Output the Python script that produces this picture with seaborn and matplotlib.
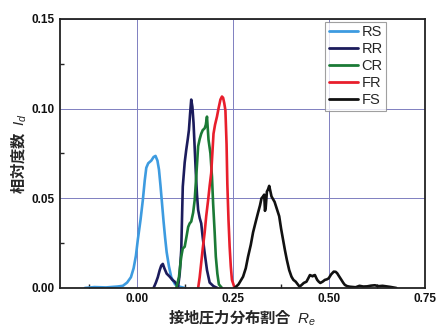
import numpy as np
import pandas as pd
import matplotlib
matplotlib.use("Agg")
import matplotlib.pyplot as plt
import seaborn as sns
from matplotlib.ticker import MultipleLocator, FormatStrFormatter

series_names = ["RS", "RR", "CR", "FR", "FS"]
colors = ["#3d9be0", "#1c1c5c", "#1b7a36", "#e81e2c", "#111111"]

rs_x = [-0.135, -0.11, -0.08, -0.05, -0.036, -0.025, -0.015, -0.008, -0.002, 0.003, 0.010, 0.016, 0.021, 0.025,
        0.030, 0.038, 0.044, 0.049, 0.054, 0.058, 0.062, 0.066, 0.070, 0.074, 0.078, 0.084, 0.090, 0.100, 0.110, 0.125]
rs_y = [0.0, 0.0005, 0.0003, 0.0008, 0.0012, 0.003, 0.006, 0.011, 0.018, 0.027, 0.038, 0.049, 0.060, 0.067,
        0.0695, 0.071, 0.073, 0.0736, 0.071, 0.066, 0.057, 0.047, 0.037, 0.028, 0.020, 0.012, 0.006, 0.002, 0.0008, 0.0]

rr_x = [0.044, 0.050, 0.055, 0.060, 0.064, 0.068, 0.072, 0.078, 0.086, 0.093, 0.099, 0.104, 0.108, 0.112, 0.116,
        0.120, 0.125, 0.129, 0.133, 0.136, 0.139, 0.142, 0.145, 0.148, 0.151, 0.154, 0.157, 0.160, 0.164, 0.168,
        0.172, 0.177, 0.183, 0.190, 0.200, 0.210]
rr_y = [0.0, 0.003, 0.006, 0.010, 0.0125, 0.0134, 0.011, 0.008, 0.0063, 0.0045, 0.0035, 0.002, 0.001, 0.008, 0.021,
        0.0565, 0.070, 0.077, 0.083, 0.088, 0.097, 0.105, 0.101, 0.092, 0.078, 0.064, 0.052, 0.0435, 0.039, 0.036,
        0.028, 0.0195, 0.010, 0.003, 0.001, 0.0]

cr_x = [0.103, 0.110, 0.116, 0.120, 0.125, 0.130, 0.134, 0.138, 0.142, 0.147, 0.151, 0.155, 0.160, 0.164, 0.168,
        0.172, 0.177, 0.180, 0.183, 0.187, 0.192, 0.196, 0.199, 0.203, 0.206, 0.210, 0.214, 0.222]
cr_y = [0.0, 0.006, 0.0175, 0.022, 0.023, 0.029, 0.034, 0.036, 0.037, 0.042, 0.049, 0.062, 0.079, 0.083, 0.086,
        0.088, 0.089, 0.091, 0.0955, 0.0826, 0.075, 0.062, 0.047, 0.031, 0.0175, 0.008, 0.002, 0.0]

fr_x = [0.160, 0.164, 0.168, 0.172, 0.177, 0.181, 0.186, 0.190, 0.194, 0.197, 0.200, 0.204, 0.209, 0.213, 0.218,
        0.222, 0.225, 0.228, 0.231, 0.234, 0.236, 0.239, 0.242, 0.245, 0.248, 0.255]
fr_y = [0.0, 0.006, 0.014, 0.022, 0.031, 0.040, 0.049, 0.057, 0.064, 0.075, 0.086, 0.091, 0.0955, 0.100, 0.105,
        0.1067, 0.106, 0.103, 0.099, 0.080, 0.058, 0.038, 0.023, 0.012, 0.0045, 0.0]

fs_x = [0.255, 0.265, 0.277, 0.284, 0.290, 0.297, 0.303, 0.310, 0.316, 0.321, 0.325, 0.329, 0.332, 0.334, 0.336, 0.339, 0.342, 0.345,
        0.348, 0.351, 0.355, 0.359, 0.365, 0.371, 0.376, 0.381,
        0.386, 0.391, 0.397, 0.403, 0.408, 0.414, 0.424, 0.430, 0.435, 0.442, 0.447, 0.451, 0.455, 0.458, 0.461, 0.464,
        0.467, 0.470, 0.474, 0.478, 0.484, 0.490, 0.495, 0.500, 0.506, 0.513, 0.518, 0.522,
        0.527, 0.533, 0.538, 0.542, 0.548, 0.555, 0.570, 0.580, 0.590, 0.600, 0.610, 0.620, 0.630, 0.640, 0.650, 0.660, 0.676]
fs_y = [0.0, 0.002, 0.0063, 0.011, 0.0175, 0.024, 0.031, 0.037, 0.042, 0.046, 0.050, 0.051, 0.052, 0.043, 0.045, 0.0537, 0.055, 0.0569,
        0.054, 0.051, 0.0495, 0.048, 0.044, 0.040, 0.033, 0.027,
        0.021, 0.0156, 0.010, 0.0063, 0.0045, 0.0035, 0.0007, 0.0018, 0.0028, 0.0035, 0.0055, 0.0072, 0.0068, 0.0065, 0.0070, 0.0072,
        0.0058, 0.0045, 0.0035, 0.0028, 0.0035, 0.0045, 0.0048, 0.0054, 0.0075, 0.0091, 0.0090, 0.0082,
        0.0065, 0.0045, 0.0028, 0.0017, 0.0010, 0.0007, 0.0004, 0.0012, 0.0008, 0.0009, 0.0013, 0.0015, 0.0010, 0.0012, 0.0009, 0.0006, 0.0]

xs = [rs_x, rr_x, cr_x, fr_x, fs_x]
ys = [rs_y, rr_y, cr_y, fr_y, fs_y]

frames = []
for n, x, y in zip(series_names, xs, ys):
    frames.append(pd.DataFrame({"Re": x, "Id": y, "series": n}))
df = pd.concat(frames, ignore_index=True)

sns.set_theme(style="white")
plt.rcParams['font.family'] = ['Liberation Sans', 'Noto Sans CJK JP', 'DejaVu Sans']
plt.rcParams['mathtext.fontset'] = 'custom'
plt.rcParams['mathtext.it'] = 'Liberation Sans:italic'
plt.rcParams['mathtext.rm'] = 'Liberation Sans'

fig = plt.figure(figsize=(4.37, 3.31), dpi=100)
ax = fig.add_axes([0.137, 0.130, 0.835, 0.813])

sns.lineplot(data=df, x="Re", y="Id", hue="series", hue_order=series_names,
             palette=colors, sort=False, estimator=None, linewidth=1.9, ax=ax)

ax.set_xlim(-0.20, 0.75)
ax.set_ylim(0, 0.15)
ax.xaxis.set_major_locator(MultipleLocator(0.25))
ax.xaxis.set_minor_locator(MultipleLocator(0.125))
ax.yaxis.set_major_locator(MultipleLocator(0.05))
ax.yaxis.set_minor_locator(MultipleLocator(0.025))
ax.xaxis.set_major_formatter(FormatStrFormatter('%.2f'))
ax.yaxis.set_major_formatter(FormatStrFormatter('%.2f'))
ax.grid(True, which='major', color='#7f7fc0', linewidth=0.7)
ax.tick_params(which='both', direction='in', colors='#222222', labelcolor='#111111', labelsize=8.5)
ax.tick_params(which='major', length=4, width=1)
ax.tick_params(which='minor', length=3, width=1, bottom=True, left=True)
for lab in ax.get_xticklabels() + ax.get_yticklabels():
    lab.set_fontweight('bold')
for s in ax.spines.values():
    s.set_color('#222222')
    s.set_linewidth(1.3)

ax.set_xlabel("接地圧力分布割合  $\\mathit{R}_e$", fontsize=11, fontweight='bold',
              family=['Noto Sans CJK JP', 'DejaVu Sans'], labelpad=2)
ax.set_ylabel("相対度数  $\\mathit{I}_d$", fontsize=11, fontweight='bold',
              family=['Noto Sans CJK JP', 'DejaVu Sans'], labelpad=2)

leg = ax.legend(loc='upper right', bbox_to_anchor=(0.895, 0.99), frameon=True, fancybox=False,
                edgecolor='#888888', fontsize=10.5, handlelength=2.0, handletextpad=0.25,
                labelspacing=0.2, borderpad=0.25, borderaxespad=0.0)
leg.get_frame().set_linewidth(0.8)
for line in leg.get_lines():
    line.set_linewidth(2.0)

fig.savefig("out.png", dpi=100)
